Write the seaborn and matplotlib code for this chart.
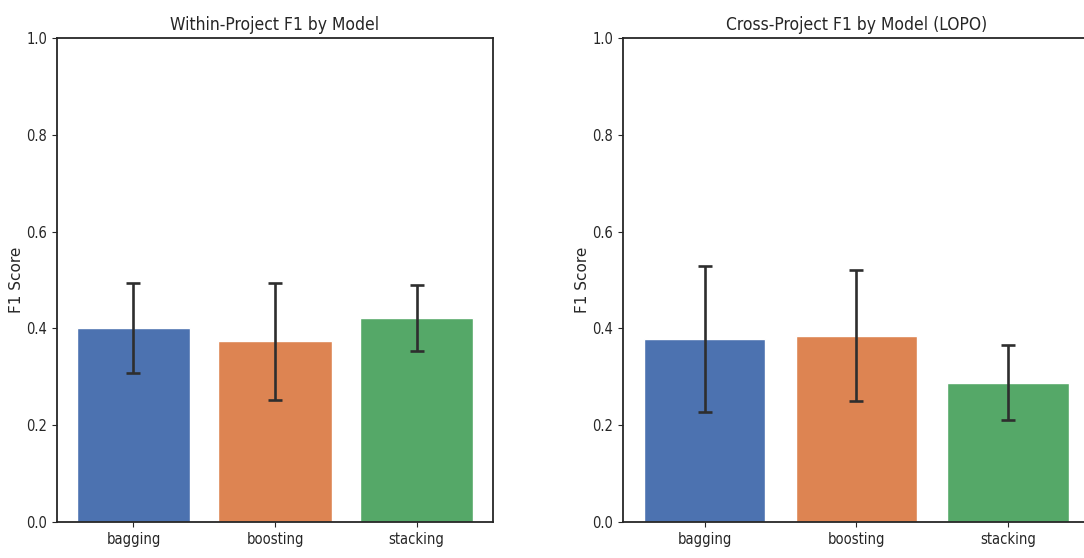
import matplotlib
matplotlib.use("Agg")
import matplotlib.pyplot as plt
import seaborn as sns

# values (mean F1, std across folds)
models = ["bagging", "boosting", "stacking"]
within_f1 = [0.400, 0.373, 0.422]
within_std = [0.093, 0.120, 0.068]
cross_f1 = [0.378, 0.385, 0.288]
cross_std = [0.151, 0.135, 0.077]
palette = sns.color_palette("deep", 3)

sns.set_style("ticks")
plt.rcParams["font.family"] = ["DejaVu Sans"]
plt.rcParams["font.stretch"] = "condensed"


def model_bars(ax, means, stds, title):
    sns.barplot(x=models, y=means, hue=models, palette=palette, saturation=1,
                legend=False, width=0.8, ax=ax)
    ax.errorbar(x=range(len(models)), y=means, yerr=stds, fmt="none",
                ecolor="#2e2e2e", elinewidth=1.9, capsize=5, capthick=1.9)
    ax.set_xlim(-0.54, 2.54)
    ax.set_ylim(0, 1.0)
    ax.set_yticks([0.0, 0.2, 0.4, 0.6, 0.8, 1.0])
    ax.set_title(title, fontsize=12.5)
    ax.set_ylabel("F1 Score", fontsize=11, fontstretch="normal", labelpad=1.5)
    ax.set_xlabel("")
    ax.tick_params(labelsize=10.5)
    for s in ax.spines.values():
        s.set_linewidth(1.3)


fig = plt.figure(figsize=(10.84, 5.58), dpi=100)
ax1 = fig.add_axes([0.0526, 0.0645, 0.4022, 0.8674])
ax2 = fig.add_axes([0.5747, 0.0645, 0.4308, 0.8674])
model_bars(ax1, within_f1, within_std, "Within-Project F1 by Model")
model_bars(ax2, cross_f1, cross_std, "Cross-Project F1 by Model (LOPO)")

fig.savefig("out.png", dpi=100)
